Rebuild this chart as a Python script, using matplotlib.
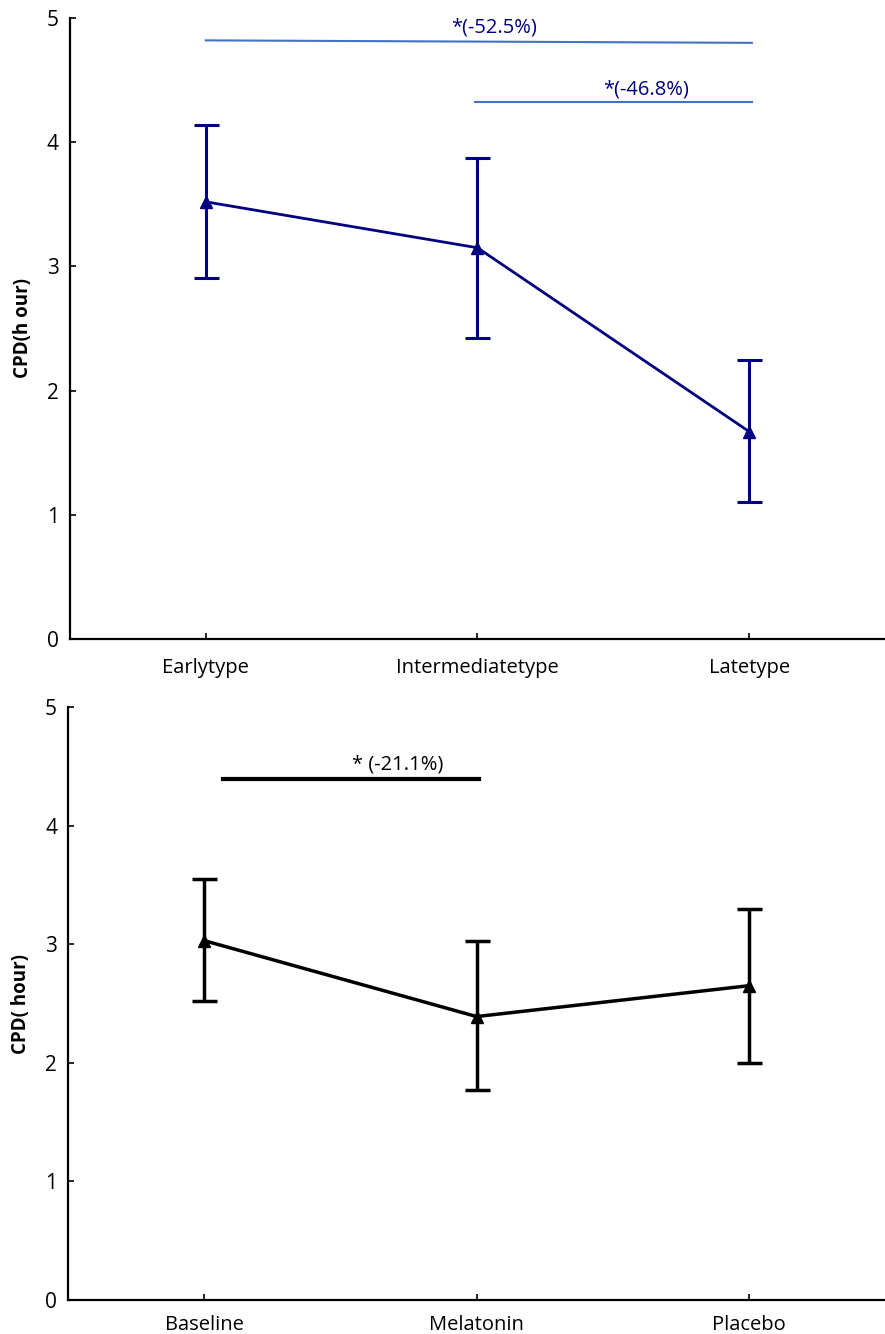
import matplotlib.pyplot as plt

plt.rcParams['font.family'] = ['Open Sans', 'DejaVu Sans']

# top panel: chronotype
types = ['Earlytype', 'Intermediatetype', 'Latetype']
cpd_type = [3.52, 3.15, 1.67]
err_type_up = [0.62, 0.72, 0.58]
err_type_down = [0.61, 0.73, 0.57]

# bottom panel: treatment
groups = ['Baseline', 'Melatonin', 'Placebo']
cpd_group = [3.03, 2.39, 2.65]
err_group_up = [0.52, 0.64, 0.65]
err_group_down = [0.51, 0.62, 0.65]

navy = '#000080'
lightblue = '#4472C4'

fig = plt.figure(figsize=(8.85, 13.34), dpi=100)
ax1 = fig.add_axes([0.079, 0.521, 0.921, 0.4655])
ax2 = fig.add_axes([0.077, 0.0255, 0.923, 0.4445])


def style_axis(ax, labels, ylabel, xpad):
    ax.set_xlim(-0.5, 2.5)
    ax.set_ylim(0, 5)
    ax.set_xticks(range(3))
    ax.set_xticklabels(labels, fontsize=14.5)
    ax.set_yticks(range(6))
    ax.tick_params(axis='y', labelsize=15, direction='in', length=4, width=1.2, pad=8)
    ax.tick_params(axis='x', direction='in', length=4, width=1.2, pad=xpad)
    for s in ['top', 'right']:
        ax.spines[s].set_visible(False)
    for s in ['left', 'bottom']:
        ax.spines[s].set_linewidth(1.6)
    ax.set_ylabel(ylabel, fontsize=13.5, fontweight='bold', labelpad=10)


x = list(range(3))

ax1.errorbar(x, cpd_type, yerr=[err_type_down, err_type_up], color=navy,
             marker='^', markersize=9, linewidth=2, elinewidth=2.2,
             capsize=9, capthick=2.2)
style_axis(ax1, types, 'CPD(h our)', 14)
ax1.plot([0, 2.01], [4.82, 4.80], color=lightblue, linewidth=1.5)
ax1.plot([0.99, 2.01], [4.32, 4.32], color=lightblue, linewidth=1.5)
ax1.text(1.06, 4.84, '*(-52.5%)', color=navy, fontsize=14.5, ha='center', va='bottom')
ax1.text(1.62, 4.34, '*(-46.8%)', color=navy, fontsize=14.5, ha='center', va='bottom')

ax2.errorbar(x, cpd_group, yerr=[err_group_down, err_group_up], color='black',
             marker='^', markersize=9, linewidth=2.5, elinewidth=2.5,
             capsize=9, capthick=2.5)
style_axis(ax2, groups, 'CPD( hour)', 11)
ax2.plot([0.07, 1.01], [4.39, 4.39], color='black', linewidth=3)
ax2.text(0.71, 4.43, '* (-21.1%)', color='black', fontsize=14.5, ha='center', va='bottom')

fig.savefig('out.png', dpi=100)
